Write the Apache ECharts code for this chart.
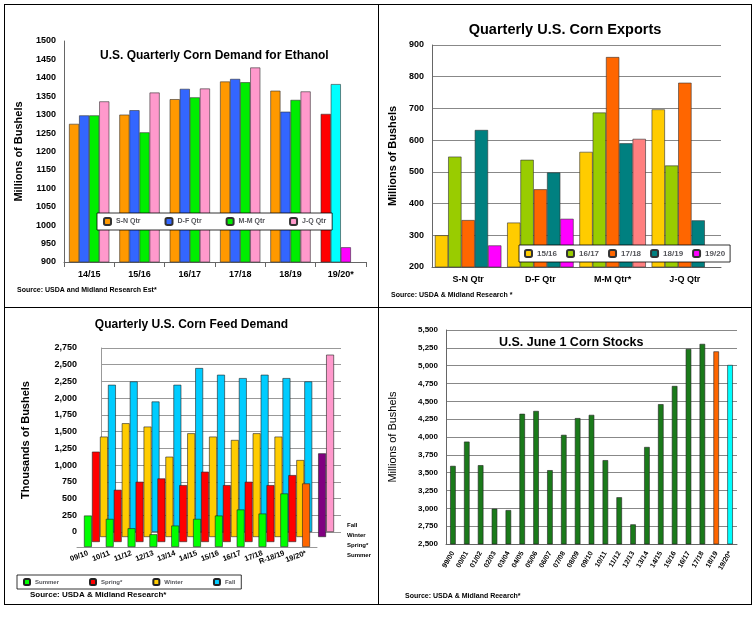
<!DOCTYPE html>
<html><head><meta charset="utf-8">
<script src="https://cdn.jsdelivr.net/npm/echarts@6/dist/echarts.min.js"></script>
<style>
body{margin:0;background:#fff;font-family:Arial,"Liberation Sans",sans-serif}
.p{position:absolute;border:1.5px solid #000;box-sizing:border-box}
</style></head><body>
<div class="p" id="c1" style="left:4px;top:4px;width:375px;height:304px"></div>
<div class="p" id="c2" style="left:378px;top:4px;width:374px;height:304px"></div>
<div class="p" id="c3" style="left:4px;top:307px;width:375px;height:298px"></div>
<div class="p" id="c4" style="left:378px;top:307px;width:374px;height:298px"></div>
<script>
// ethanol
var ethCats = ['14/15','15/16','16/17','17/18','18/19','19/20*'];
var ethSN = [1275,1300,1342,1390,1365,1302];
var ethDF = [1298,1312,1370,1397,1308,1383];
var ethMM = [1298,1252,1347,1388,1340,940];
var ethJQ = [1336,1360,1371,1428,1363,null];
// exports
var expCats = ['S-N Qtr','D-F Qtr','M-M Qtr*','J-Q Qtr'];
var exp1516 = [300,340,563,697];
var exp1617 = [548,538,687,520];
var exp1718 = [348,445,862,781];
var exp1819 = [632,498,590,347];
var exp1920 = [268,352,604,null];
// feed
var feedCats = ['09/10','10/11','11/12','12/13','13/14','14/15','15/16','16/17','17/18','R-18/19','19/20*'];
var feedSummer = [470,420,280,190,320,420,470,560,500,800,950];
var feedSpring = [1350,780,900,950,850,1050,850,900,850,1000,null];
var feedWinter = [1500,1700,1650,1200,1550,1500,1450,1550,1500,1150,1250];
var feedFall = [2200,2250,1950,2200,2450,2350,2300,2350,2300,2250,2650];
// stocks
var stkCats = ['99/00','00/01','01/02','02/03','03/04','04/05','05/06','06/07','07/08','08/09','09/10','10/11','11/12','12/13','13/14','14/15','15/16','16/17','17/18','18/19','19/20*'];
var stkVals = [3595,3935,3605,2995,2975,4325,4365,3535,4030,4265,4310,3675,3155,2775,3860,4460,4715,5235,5305,5200,5010];

var F = 'Arial';
var bold = {fontFamily:F,fontWeight:'bold',color:'#000'};
function col(arr,last,c){return arr.map(function(v,i){return i===arr.length-1&&last?{value:v,itemStyle:{color:last}}:v;});}
function comma(v){return v.toLocaleString('en-US');}
var bs = {borderColor:'#333',borderWidth:0.6};

var c1 = echarts.init(document.getElementById('c1'));
c1.setOption({
  animation:false,
  title:{text:'U.S. Quarterly Corn Demand for Ethanol',left:90,top:40,textStyle:Object.assign({fontSize:12},bold)},
  graphic:[{type:'text',left:12,top:282,style:{text:'Source: USDA and Midland Research Est*',font:'bold 7px Arial',fill:'#000'}}],
  legend:{left:92,top:208,itemWidth:7,itemHeight:7,itemGap:24,backgroundColor:'#fff',borderColor:'#000',borderWidth:0.8,padding:[4,6],textStyle:{fontSize:7,fontFamily:F,fontWeight:'bold'}},
  grid:{left:58,right:12,top:36,bottom:45},
  xAxis:{type:'category',data:ethCats,axisLine:{lineStyle:{color:'#666'}},axisTick:{show:true},axisLabel:Object.assign({fontSize:9},bold)},
  yAxis:{type:'value',min:900,max:1500,interval:50,name:'Millions of Bushels',nameLocation:'middle',nameGap:40,nameTextStyle:Object.assign({fontSize:11},bold),axisLine:{show:true,lineStyle:{color:'#666'}},axisLabel:Object.assign({fontSize:9,formatter:function(v){return String(v);}},bold),splitLine:{show:false}},
  series:[
    {name:'S-N Qtr',type:'bar',data:col(ethSN,'#ff0000'),itemStyle:Object.assign({color:'#ff9900'},bs),barGap:'0%',barCategoryGap:'20%'},
    {name:'D-F Qtr',type:'bar',data:col(ethDF,'#00ffff'),itemStyle:Object.assign({color:'#3366ff'},bs)},
    {name:'M-M Qtr',type:'bar',data:col(ethMM,'#ff00ff'),itemStyle:Object.assign({color:'#00ee00'},bs)},
    {name:'J-Q Qtr',type:'bar',data:ethJQ,itemStyle:Object.assign({color:'#ff99cc'},bs)}
  ]
});

var c2 = echarts.init(document.getElementById('c2'));
c2.setOption({
  animation:false,
  title:{text:'Quarterly U.S. Corn Exports',left:'center',top:12,textStyle:Object.assign({fontSize:14.5},bold)},
  graphic:[{type:'text',left:12,top:287,style:{text:'Source: USDA & Midland Research *',font:'bold 7px Arial',fill:'#000'}}],
  legend:{left:140,top:240,itemWidth:7,itemHeight:7,itemGap:9,backgroundColor:'#fff',borderColor:'#000',borderWidth:0.8,padding:[4,5],textStyle:{fontSize:8,fontFamily:F,fontWeight:'bold'}},
  grid:{left:52,right:30,top:40,bottom:40},
  xAxis:{type:'category',data:expCats,axisLine:{lineStyle:{color:'#666'}},axisLabel:Object.assign({fontSize:9},bold)},
  yAxis:{type:'value',min:200,max:900,interval:100,name:'Millions of Bushels',nameLocation:'middle',nameGap:34,nameTextStyle:Object.assign({fontSize:11},bold),axisLine:{show:true,lineStyle:{color:'#666'}},axisLabel:Object.assign({fontSize:9},bold),splitLine:{lineStyle:{color:'#888'}}},
  series:[
    {name:'15/16',type:'bar',data:exp1516,itemStyle:Object.assign({color:'#ffcc00'},bs),barGap:'0%',barCategoryGap:'8%'},
    {name:'16/17',type:'bar',data:exp1617,itemStyle:Object.assign({color:'#99cc00'},bs)},
    {name:'17/18',type:'bar',data:exp1718,itemStyle:Object.assign({color:'#ff6600'},bs)},
    {name:'18/19',type:'bar',data:exp1819,itemStyle:Object.assign({color:'#008080'},bs)},
    {name:'19/20',type:'bar',data:exp1920.map(function(v,i){return i===2?{value:v,itemStyle:{color:'#ff8080'}}:v;}),itemStyle:Object.assign({color:'#ff00ff'},bs)}
  ]
});

// feed: pseudo 3D with offset grids (back row first)
var rows = [
  {name:'Fall',data:feedFall,color:'#00ccff',last:'#ff99cc'},
  {name:'Winter',data:feedWinter,color:'#ffcc00',last:'#800080'},
  {name:'Spring*',data:feedSpring,color:'#ff0000',last:null},
  {name:'Summer',data:feedSummer,color:'#00ff00',last:'#ff6600'}
];
var grids=[],xs=[],ys=[],ser=[];
rows.forEach(function(r,k){
  var dx=k*8, dy=k*5;
  grids.push({left:96-dx,width:240,top:40+dy,height:184});
  xs.push({type:'category',gridIndex:k,data:feedCats,axisLine:{show:k===3,lineStyle:{color:'#999'}},axisTick:{show:false},
    axisLabel:k===3?Object.assign({fontSize:7.5,rotate:20,interval:0,margin:6},bold):{show:false}});
  ys.push({type:'value',gridIndex:k,min:0,max:2750,interval:250,
    axisLine:{show:k===0,lineStyle:{color:'#999'}},
    splitLine:{show:k===0,lineStyle:{color:'#999'}},
    axisLabel:k===0?Object.assign({fontSize:9,margin:24,formatter:comma},bold):{show:false},
    name:k===0?'Thousands of Bushels':'',nameLocation:'middle',nameGap:70,nameTextStyle:Object.assign({fontSize:11},bold)});
  ser.push({name:r.name,type:'bar',xAxisIndex:k,yAxisIndex:k,barWidth:'36%',z:2+k,
    data:col(r.data,r.last),itemStyle:{color:r.color,borderColor:'#222',borderWidth:0.6}});
});
var c3 = echarts.init(document.getElementById('c3'));
c3.setOption({
  animation:false,
  title:{text:'Quarterly U.S. Corn Feed Demand',left:'center',top:6,textStyle:Object.assign({fontSize:12},bold)},
  graphic:[{type:'text',left:25,top:283,style:{text:'Source: USDA & Midland Research*',font:'bold 8px Arial',fill:'#000'}},
    {type:'text',left:342,top:212,style:{text:'Fall\nWinter\nSpring*\nSummer',font:'bold 6px Arial',fill:'#000',lineHeight:10}}],
  legend:{data:['Summer','Spring*','Winter','Fall'],left:12,top:267,itemWidth:6,itemHeight:6,itemGap:30,borderColor:'#000',borderWidth:0.8,padding:[3,6],textStyle:{fontSize:6,fontFamily:F,fontWeight:'bold'}},
  grid:grids,xAxis:xs,yAxis:ys,series:ser
});

var c4 = echarts.init(document.getElementById('c4'));
c4.setOption({
  animation:false,
  title:{text:'U.S. June 1 Corn Stocks',left:115,top:23,textStyle:Object.assign({fontSize:12.5},bold)},
  graphic:[{type:'text',left:26,top:285,style:{text:'Source: USDA & Midland Reearch*',font:'bold 7px Arial',fill:'#000'}}],
  grid:{left:66,right:14,top:22,bottom:60},
  xAxis:{type:'category',data:stkCats,axisLine:{lineStyle:{color:'#666'}},axisLabel:Object.assign({fontSize:7,rotate:60,interval:0},bold)},
  yAxis:{type:'value',min:2500,max:5500,interval:250,name:'Millions of Bushels',nameLocation:'middle',nameGap:48,nameTextStyle:{fontSize:11,fontFamily:F,color:'#000'},axisLine:{show:true,lineStyle:{color:'#666'}},
    axisLabel:Object.assign({fontSize:8,formatter:comma},bold),splitLine:{lineStyle:{color:'#888'}}},
  series:[{type:'bar',barWidth:'40%',data:stkVals.map(function(v,i){
    var c=i===stkVals.length-2?'#ff6600':i===stkVals.length-1?'#00ffff':'#1a7a1a';
    return {value:v,itemStyle:{color:c}};}),itemStyle:{borderColor:'#222',borderWidth:0.6}}]
});
</script></body></html>
